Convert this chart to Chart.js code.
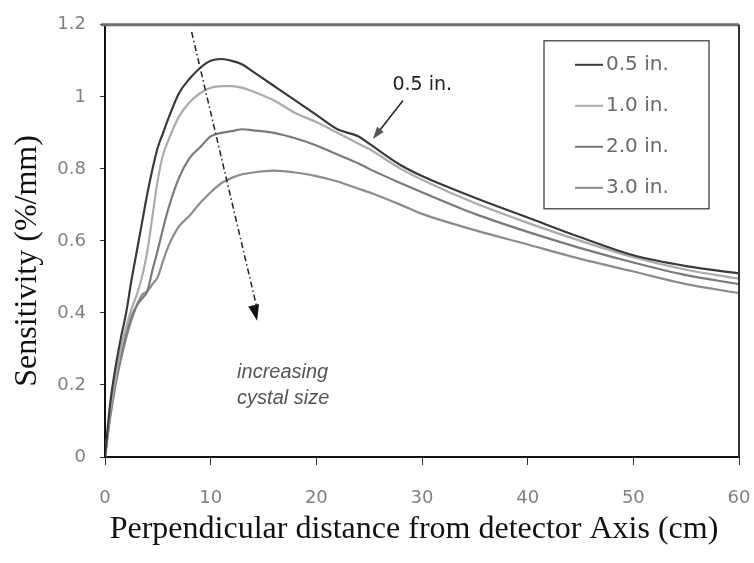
<!DOCTYPE html>
<html>
<head>
    <script src="https://cdn.jsdelivr.net/npm/chart.js@4.4.0/dist/chart.umd.min.js"></script>
    <style>
        body { margin: 0; background: #fff; }
    </style>
</head>
<body>

    <canvas id="myChart" width="754" height="563"></canvas>

    <script type="text/javascript">
        // distance from detector axis (cm)
        const distances = [0, 0.5, 1, 1.5, 2, 2.5, 3, 3.5, 4, 4.5, 5, 5.5, 6, 7, 8, 9, 10, 11, 12, 13, 14, 16, 18, 20, 22, 24, 25, 28, 30, 35, 40, 45, 50, 55, 60];

        // sensitivity (%/mm) per crystal thickness
        const sens05 = [0, 0.15, 0.25, 0.33, 0.40, 0.49, 0.57, 0.65, 0.73, 0.80, 0.86, 0.90, 0.94, 1.01, 1.05, 1.08, 1.10, 1.105, 1.10, 1.09, 1.07, 1.03, 0.99, 0.95, 0.91, 0.89, 0.87, 0.81, 0.78, 0.72, 0.665, 0.61, 0.56, 0.53, 0.51];
        const sens10 = [0, 0.13, 0.22, 0.30, 0.36, 0.41, 0.45, 0.50, 0.57, 0.67, 0.77, 0.84, 0.88, 0.945, 0.985, 1.01, 1.025, 1.03, 1.03, 1.025, 1.015, 0.99, 0.955, 0.93, 0.90, 0.87, 0.855, 0.80, 0.77, 0.705, 0.65, 0.60, 0.555, 0.52, 0.495];
        const sens20 = [0, 0.12, 0.21, 0.28, 0.34, 0.39, 0.42, 0.44, 0.46, 0.52, 0.575, 0.635, 0.69, 0.775, 0.83, 0.86, 0.89, 0.90, 0.905, 0.91, 0.907, 0.90, 0.885, 0.865, 0.84, 0.815, 0.80, 0.76, 0.735, 0.675, 0.625, 0.58, 0.54, 0.505, 0.48];
        const sens30 = [0, 0.11, 0.20, 0.27, 0.33, 0.38, 0.42, 0.45, 0.46, 0.48, 0.50, 0.545, 0.585, 0.64, 0.67, 0.705, 0.735, 0.76, 0.775, 0.785, 0.79, 0.795, 0.79, 0.78, 0.765, 0.745, 0.735, 0.70, 0.675, 0.63, 0.59, 0.55, 0.515, 0.48, 0.455];

        const seriesLabels = ['0.5 in.', '1.0 in.', '2.0 in.', '3.0 in.'];
        const seriesColors = ['#3a3a3a', '#ababab', '#7a7a7a', '#8c8c8c'];

        const xTicks = [0, 10, 20, 30, 40, 50, 60];
        const yTicks = [0, 0.2, 0.4, 0.6, 0.8, 1, 1.2];

        // annotation anchors, in data units
        const sizeArrow = { from: [8.2, 1.18], to: [14.4, 0.378] };
        const labelArrow = { from: [28.2, 0.99], to: [25.35, 0.883] };

        function toPoints(values) {
            return distances.map((d, i) => ({ x: d, y: values[i] }));
        }

        const allSeries = [sens05, sens10, sens20, sens30];
        const datasets = allSeries.map((values, i) => ({
            label: seriesLabels[i],
            data: toPoints(values),
            borderColor: seriesColors[i],
            borderWidth: 2.2,
            pointRadius: 0,
            cubicInterpolationMode: 'monotone',
            fill: false
        }));

        function drawArrowHead(ctx, x0, y0, x1, y1, size) {
            const ang = Math.atan2(y1 - y0, x1 - x0);
            ctx.beginPath();
            ctx.moveTo(x1, y1);
            ctx.lineTo(x1 - size * Math.cos(ang - 0.33), y1 - size * Math.sin(ang - 0.33));
            ctx.lineTo(x1 - size * Math.cos(ang + 0.33), y1 - size * Math.sin(ang + 0.33));
            ctx.closePath();
            ctx.fill();
        }

        // frame, legend box and the arrows / notes
        const overlay = {
            id: 'overlay',
            afterDraw(chart) {
                const ctx = chart.ctx;
                const a = chart.chartArea;
                const xs = chart.scales.x;
                const ys = chart.scales.y;
                ctx.save();

                ctx.strokeStyle = '#6e6e6e';
                ctx.lineWidth = 3;
                ctx.beginPath();
                ctx.moveTo(a.left - 4, a.top);
                ctx.lineTo(a.right, a.top);
                ctx.stroke();
                ctx.strokeStyle = '#333';
                ctx.lineWidth = 2;
                ctx.beginPath();
                ctx.moveTo(a.right, a.top);
                ctx.lineTo(a.right, a.bottom);
                ctx.stroke();

                // legend
                const bx = a.right - 195, by = a.top + 16, bw = 165, bh = 168;
                ctx.strokeStyle = '#333';
                ctx.lineWidth = 1.2;
                ctx.strokeRect(bx, by, bw, bh);
                ctx.font = '20px "DejaVu Sans"';
                ctx.textBaseline = 'middle';
                ctx.textAlign = 'left';
                chart.data.datasets.forEach((ds, i) => {
                    const ly = by + 24 + i * 41;
                    ctx.strokeStyle = ds.borderColor;
                    ctx.lineWidth = 2;
                    ctx.beginPath();
                    ctx.moveTo(bx + 31, ly);
                    ctx.lineTo(bx + 59, ly);
                    ctx.stroke();
                    ctx.fillStyle = '#6a6a6a';
                    ctx.fillText(ds.label, bx + 62, ly);
                });

                // increasing crystal size arrow (dash-dot)
                const sx = xs.getPixelForValue(sizeArrow.from[0]);
                const sy = ys.getPixelForValue(sizeArrow.from[1]);
                const ex = xs.getPixelForValue(sizeArrow.to[0]);
                const ey = ys.getPixelForValue(sizeArrow.to[1]);
                ctx.strokeStyle = '#222';
                ctx.fillStyle = '#111';
                ctx.lineWidth = 1.5;
                ctx.setLineDash([6, 3, 1.5, 3]);
                ctx.beginPath();
                ctx.moveTo(sx, sy);
                ctx.lineTo(ex, ey - 12);
                ctx.stroke();
                ctx.setLineDash([]);
                drawArrowHead(ctx, sx, sy, ex, ey, 17);

                ctx.font = 'italic 20px "Liberation Sans"';
                ctx.fillStyle = '#555';
                ctx.textAlign = 'left';
                ctx.fillText('increasing', xs.getPixelForValue(12.5), ys.getPixelForValue(0.234));
                ctx.fillText('cystal size', xs.getPixelForValue(12.5), ys.getPixelForValue(0.163));

                // 0.5 in. callout
                const cx0 = xs.getPixelForValue(labelArrow.from[0]);
                const cy0 = ys.getPixelForValue(labelArrow.from[1]);
                const cx1 = xs.getPixelForValue(labelArrow.to[0]);
                const cy1 = ys.getPixelForValue(labelArrow.to[1]);
                ctx.strokeStyle = '#222';
                ctx.lineWidth = 1.5;
                ctx.beginPath();
                ctx.moveTo(cx0, cy0);
                ctx.lineTo(cx1 + 4, cy1 - 5);
                ctx.stroke();
                drawArrowHead(ctx, cx0, cy0, cx1, cy1, 13);
                ctx.font = '19px "DejaVu Sans"';
                ctx.fillStyle = '#222';
                ctx.fillText('0.5 in.', xs.getPixelForValue(27.2), ys.getPixelForValue(1.032));

                ctx.restore();
            }
        };

        const config = {
            type: 'line',
            data: { datasets: datasets },
            options: {
                responsive: false,
                animation: false,
                layout: { padding: { top: 22, right: 0, bottom: 0, left: 0 } },
                plugins: {
                    legend: { display: false },
                    tooltip: { enabled: false }
                },
                scales: {
                    x: {
                        type: 'linear',
                        min: 0,
                        max: 60,
                        afterFit(scale) {
                            scale.height = 106;
                            scale.paddingLeft = 0;
                            scale.paddingRight = 15;
                        },
                        afterBuildTicks(scale) { scale.ticks = xTicks.map(v => ({ value: v })); },
                        border: { color: '#111', width: 2 },
                        grid: { drawOnChartArea: false, tickLength: 8, color: '#333' },
                        ticks: {
                            padding: 23,
                            color: '#808080',
                            font: { family: 'DejaVu Sans', size: 18 }
                        },
                        title: {
                            display: true,
                            text: 'Perpendicular distance from detector Axis (cm)  ',
                            color: '#111',
                            font: { family: 'Liberation Serif', size: 32 },
                            padding: { top: 0, bottom: 14 }
                        }
                    },
                    y: {
                        min: 0,
                        max: 1.2,
                        afterFit(scale) { scale.width = 105; },
                        afterBuildTicks(scale) { scale.ticks = yTicks.map(v => ({ value: v })); },
                        border: { color: '#111', width: 2 },
                        grid: { drawOnChartArea: false, tickLength: 5, color: '#333' },
                        ticks: {
                            padding: 14,
                            color: '#808080',
                            font: { family: 'DejaVu Sans', size: 18 },
                            callback: v => String(v)
                        },
                        title: {
                            display: true,
                            text: 'Sensitivity (%/mm)     ',
                            color: '#111',
                            font: { family: 'Liberation Serif', size: 32 },
                            padding: { top: 8, bottom: 0 }
                        }
                    }
                }
            },
            plugins: [overlay]
        };

        const chart = new Chart(document.getElementById('myChart'), config);
    </script>
</body>
</html>
